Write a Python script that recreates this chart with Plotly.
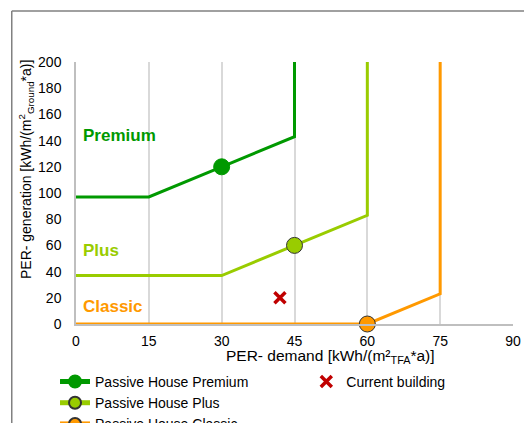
import plotly.graph_objects as go

# Data
premium_x = [0, 15, 30, 45, 45]
premium_y = [97, 97, 120, 143, 200]
premium_marker_size = [0, 0, 16, 0, 0]

plus_x = [0, 30, 45, 60, 60]
plus_y = [37, 37, 60, 83, 200]
plus_marker_size = [0, 0, 16, 0, 0]

classic_x = [0, 60, 75, 75]
classic_y = [0, 0, 23, 200]
classic_marker_size = [0, 16, 0, 0]

current_x = [42]
current_y = [20]

x_ticks = [0, 15, 30, 45, 60, 75, 90]
y_ticks = [0, 20, 40, 60, 80, 100, 120, 140, 160, 180, 200]

c_premium = "#009900"
c_plus = "#99cc00"
c_classic = "#ff9900"
c_current = "#c00000"

fig = go.Figure()

fig.add_trace(go.Scatter(
    x=premium_x, y=premium_y, mode="lines+markers", name="Passive House Premium",
    line=dict(color=c_premium, width=3),
    marker=dict(size=premium_marker_size, color=c_premium, opacity=1,
                line=dict(color=c_premium, width=1)),
    cliponaxis=False, legend="legend"))
fig.add_trace(go.Scatter(
    x=plus_x, y=plus_y, mode="lines+markers", name="Passive House Plus",
    line=dict(color=c_plus, width=3),
    marker=dict(size=plus_marker_size, color=c_plus, opacity=1,
                line=dict(color="#333333", width=1)),
    cliponaxis=False, legend="legend"))
fig.add_trace(go.Scatter(
    x=classic_x, y=classic_y, mode="lines+markers", name="Passive House Classic",
    line=dict(color=c_classic, width=3),
    marker=dict(size=classic_marker_size, color=c_classic, opacity=1,
                line=dict(color="#333333", width=1)),
    cliponaxis=False, legend="legend"))
fig.add_trace(go.Scatter(
    x=current_x, y=current_y, mode="markers", name="Current building",
    marker=dict(symbol="x-thin", size=11, color=c_current, opacity=1,
                line=dict(color=c_current, width=3.5)),
    cliponaxis=False, legend="legend2"))

font_family = "Liberation Sans, Arial, sans-serif"

fig.update_layout(
    width=524, height=415,
    margin=dict(l=68, r=19, t=54, b=99, autoexpand=False),
    paper_bgcolor="white", plot_bgcolor="white",
    font=dict(family=font_family, size=14, color="#000000"),
    showlegend=True,
    legend=dict(
        x=-0.048, y=-0.16, xanchor="left", yanchor="top",
        orientation="v", font=dict(size=14), tracegroupgap=0,
        bgcolor="rgba(0,0,0,0)", itemsizing="constant", maxheight=120,
    ),
    legend2=dict(
        x=0.527, y=-0.16, xanchor="left", yanchor="top",
        orientation="v", font=dict(size=14),
        bgcolor="rgba(0,0,0,0)",
    ),
    xaxis=dict(
        range=[0, 90], tickmode="array", tickvals=x_ticks,
        showgrid=True, gridcolor="#d9d9d9", gridwidth=1.5,
        showline=True, linecolor="#bfbfbf", linewidth=1.5,
        zeroline=False, ticks="outside", ticklen=3, tickcolor="rgba(0,0,0,0)",
        tickfont=dict(size=14),
    ),
    yaxis=dict(
        range=[0, 200], tickmode="array", tickvals=y_ticks,
        showgrid=False, showline=True, linecolor="#bfbfbf", linewidth=1.5,
        zeroline=False, ticks="outside", ticklen=10, tickcolor="rgba(0,0,0,0)",
        tickfont=dict(size=14),
    ),
    annotations=[
        dict(x=1, y=144, xref="x", yref="y", text="<b>Premium</b>", showarrow=False,
             xanchor="left", yanchor="middle", font=dict(size=17, color=c_premium)),
        dict(x=1, y=56, xref="x", yref="y", text="<b>Plus</b>", showarrow=False,
             xanchor="left", yanchor="middle", font=dict(size=17, color=c_plus)),
        dict(x=1, y=13, xref="x", yref="y", text="<b>Classic</b>", showarrow=False,
             xanchor="left", yanchor="middle", font=dict(size=17, color=c_classic)),
        dict(x=0.583, y=-0.125, xref="paper", yref="paper",
             text="PER- demand [kWh/(m²<sub>TFA</sub>*a)]", showarrow=False,
             xanchor="center", yanchor="middle", font=dict(size=15.5)),
        dict(x=-0.113, y=0.59, xref="paper", yref="paper",
             text="PER- generation [kWh/(m<sup>2</sup><sub>Ground</sub>*a)]", showarrow=False,
             textangle=-90, xanchor="center", yanchor="middle", font=dict(size=14)),
    ],
    shapes=[
        dict(type="line", xref="paper", yref="paper", x0=-0.147, y0=1.195, x1=1.2, y1=1.195,
             line=dict(color="#808080", width=1.5)),
        dict(type="line", xref="paper", yref="paper", x0=-0.147, y0=1.195, x1=-0.147, y1=-0.5,
             line=dict(color="#808080", width=1.5)),
    ],
)

fig.write_html("out.html")
